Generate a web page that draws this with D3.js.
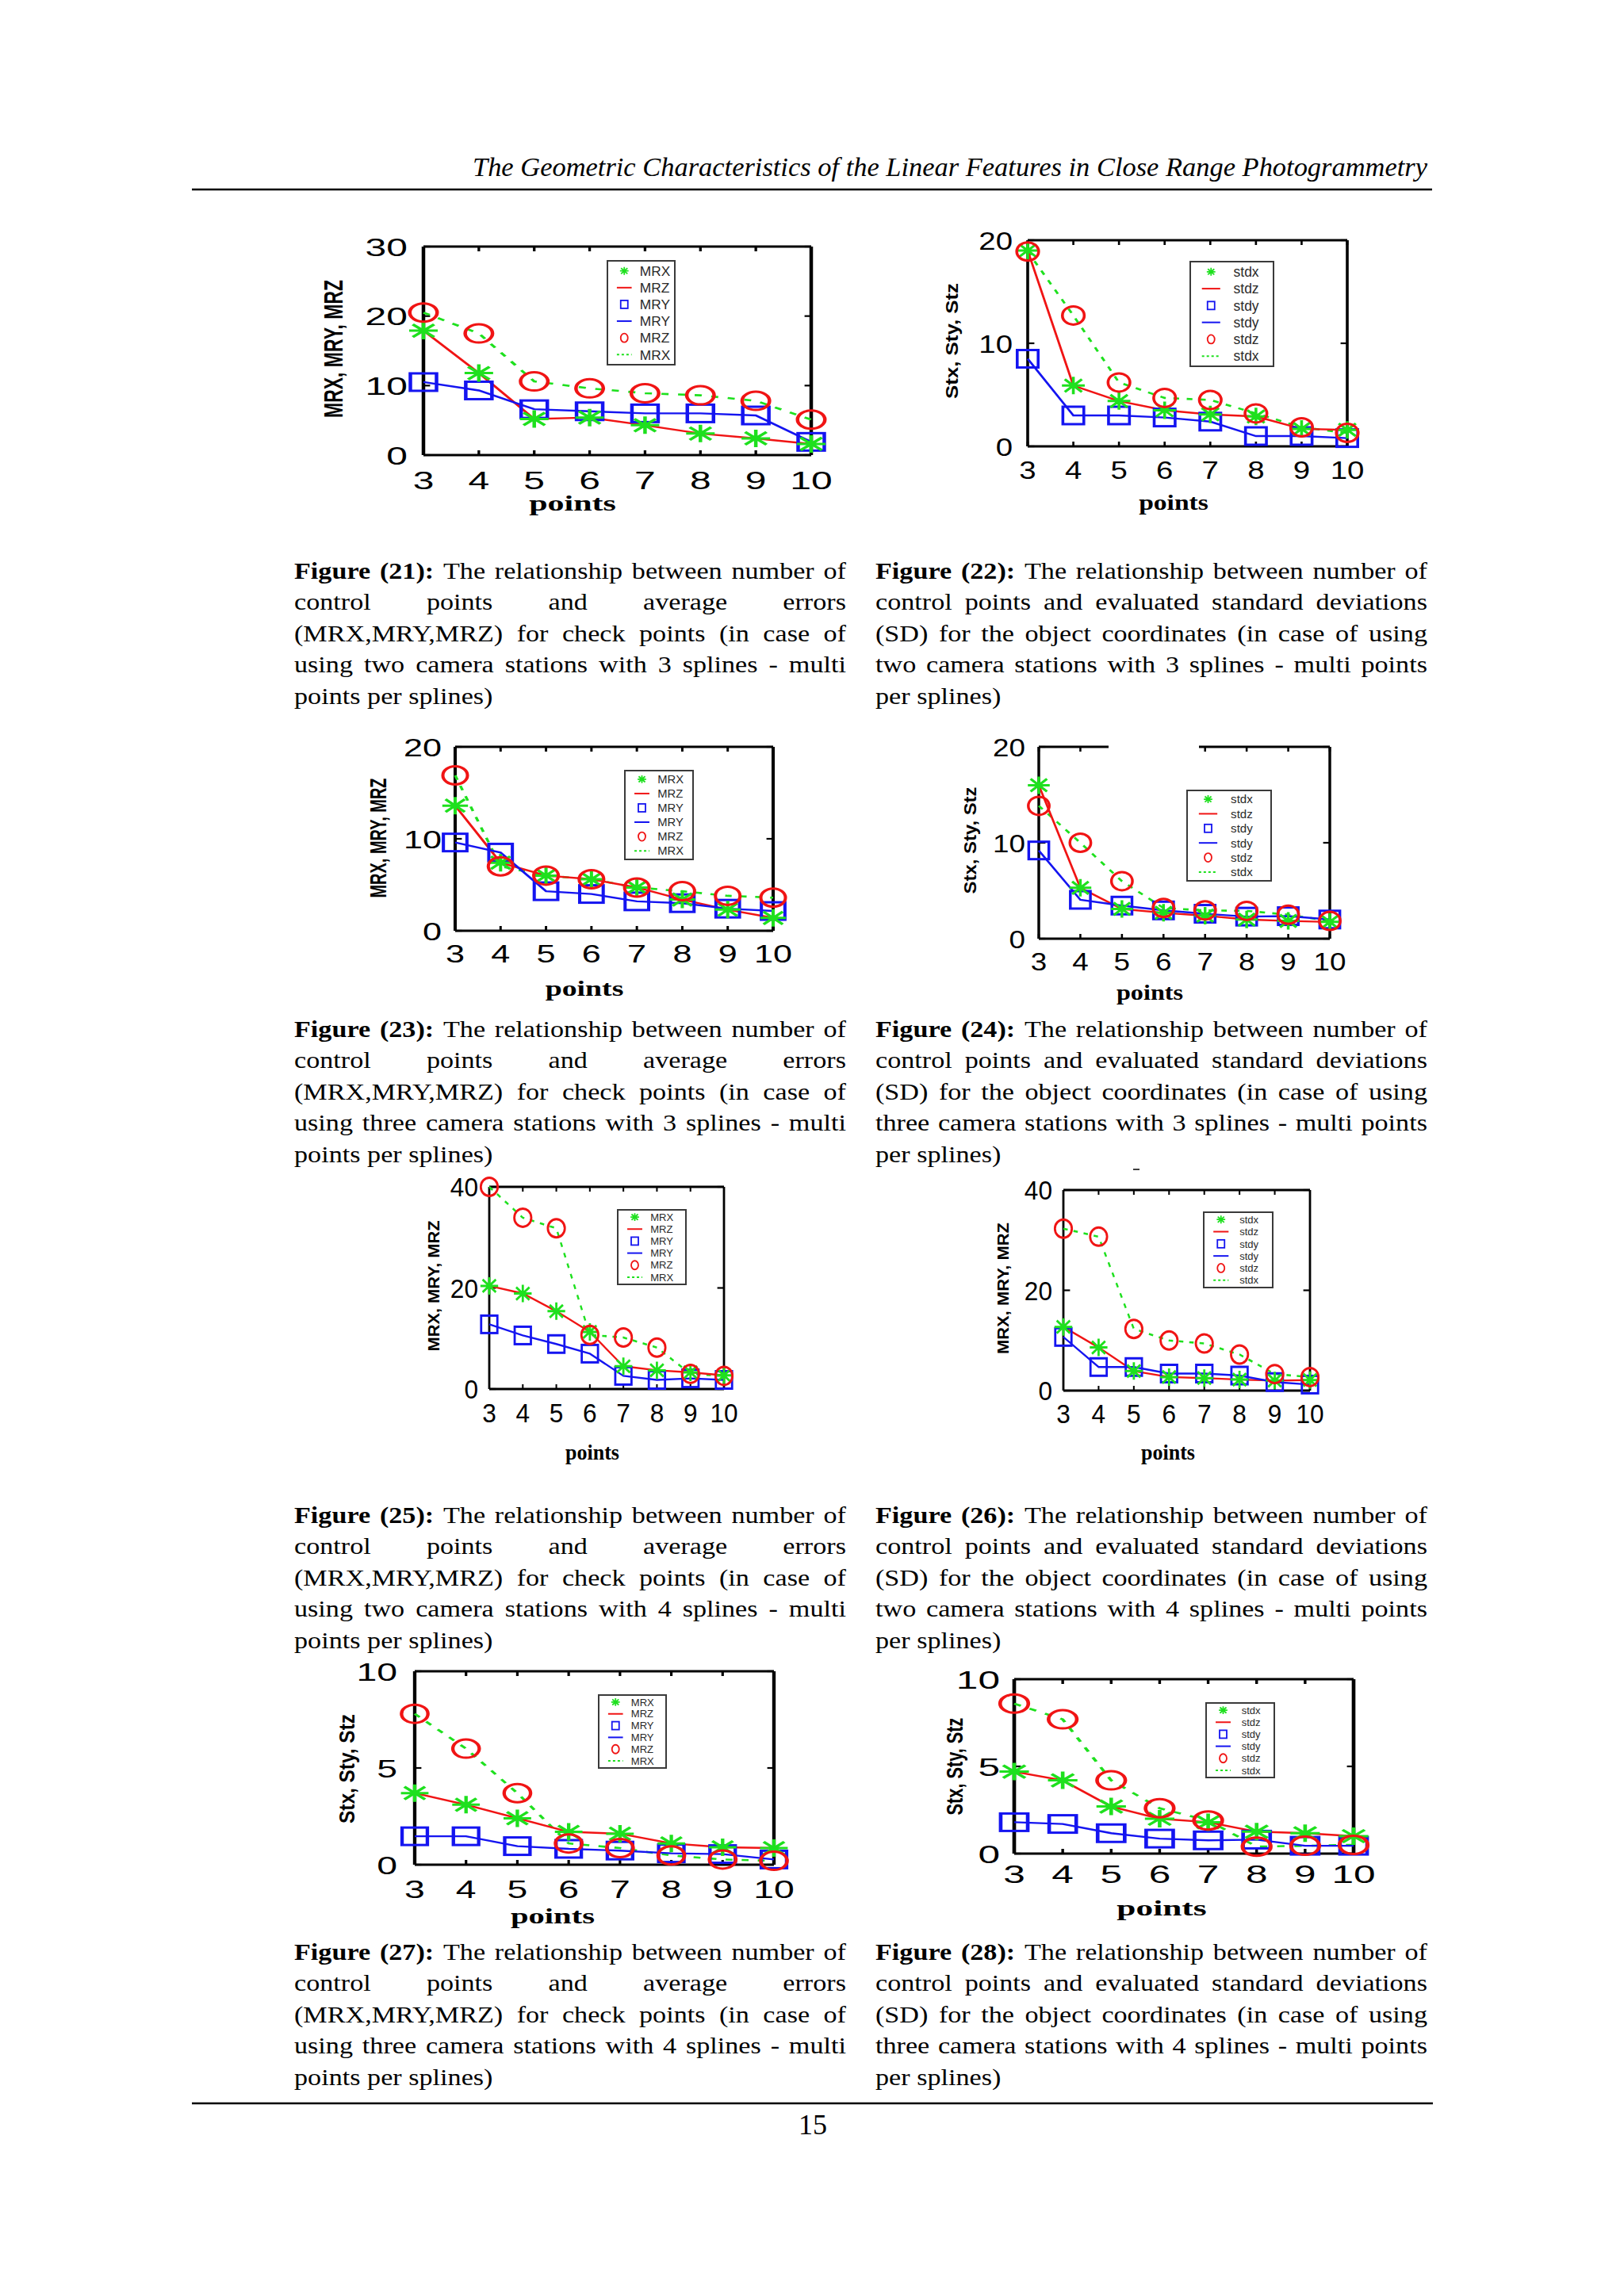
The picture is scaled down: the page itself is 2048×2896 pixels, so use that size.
<!DOCTYPE html>
<html>
<head>
<meta charset="utf-8">
<script src="https://cdn.jsdelivr.net/npm/d3@7"></script>
<style>
  body { margin: 0; background: #fff; }
  svg { display: block; }
</style>
</head>
<body>
<script>
// Page of eight small MATLAB-style plots (figures 21-28) with captions

const xPoints = [3, 4, 5, 6, 7, 8, 9, 10];

// each figure: green stars joined by red line, blue squares joined by blue line,
// red circles joined by green dotted line
const fig21Star   = [17.9, 11.8, 5.2, 5.4, 4.3, 3.1, 2.4, 1.6];
const fig21Square = [10.5, 9.3, 6.6, 6.3, 6.0, 6.0, 5.7, 1.9];
const fig21Circle = [20.5, 17.5, 10.6, 9.6, 8.9, 8.6, 7.8, 5.1];

const fig22Star   = [19.0, 5.9, 4.4, 3.5, 3.1, 2.9, 1.7, 1.6];
const fig22Square = [8.5, 3.0, 3.0, 2.8, 2.4, 1.0, 1.0, 0.8];
const fig22Circle = [18.9, 12.7, 6.2, 4.7, 4.5, 3.2, 1.85, 1.3];

const fig23Star   = [13.6, 7.4, 6.0, 5.6, 4.7, 3.4, 2.3, 1.4];
const fig23Square = [9.6, 8.5, 4.3, 4.0, 3.2, 3.0, 2.4, 2.15];
const fig23Circle = [16.9, 7.0, 6.0, 5.6, 4.7, 4.3, 3.8, 3.6];

const fig24Star   = [16.0, 5.3, 3.1, 2.7, 2.4, 2.0, 1.85, 1.75];
const fig24Square = [9.2, 4.05, 3.45, 2.95, 2.6, 2.3, 2.35, 2.0];
const fig24Circle = [13.85, 10.0, 6.0, 3.2, 2.95, 2.9, 2.5, 1.85];

const fig25Star   = [20.4, 18.9, 15.4, 11.3, 4.5, 3.7, 3.3, 2.7];
const fig25Square = [12.8, 10.6, 8.9, 7.0, 2.6, 1.8, 2.1, 1.8];
const fig25Circle = [40.0, 33.9, 31.8, 10.7, 10.2, 8.2, 3.0, 2.6];

const fig26Star   = [12.7, 8.6, 3.9, 2.7, 2.5, 2.2, 2.0, 2.1];
const fig26Square = [10.7, 4.7, 4.7, 3.4, 3.4, 3.0, 1.7, 1.2];
const fig26Circle = [32.3, 30.7, 12.3, 10.0, 9.4, 7.2, 3.3, 2.7];

const fig27Star   = [3.7, 3.1, 2.4, 1.7, 1.6, 1.1, 0.9, 0.86];
const fig27Square = [1.47, 1.47, 0.96, 0.82, 0.73, 0.59, 0.55, 0.27];
const fig27Circle = [7.8, 6.0, 3.7, 1.1, 0.86, 0.48, 0.27, 0.2];

const fig28Star   = [4.7, 4.2, 2.7, 2.0, 1.8, 1.26, 1.17, 1.0];
const fig28Square = [1.8, 1.7, 1.17, 0.86, 0.76, 0.8, 0.45, 0.45];
const fig28Circle = [8.6, 7.7, 4.2, 2.6, 1.9, 0.4, 0.45, 0.5];

const yTicks30 = [0, 10, 20, 30];
const yTicks20 = [0, 10, 20];
const yTicks40 = [0, 20, 40];
const yTicks10 = [0, 5, 10];

const mrLegend = ["MRX", "MRZ", "MRY", "MRY", "MRZ", "MRX"];
const sdLegend = ["stdx", "stdz", "stdy", "stdy", "stdz", "stdx"];

const headerText = "The Geometric Characteristics of the Linear Features in Close Range Photogrammetry";
const pageNumber = "15";

const cap21 = ["Figure (21): The relationship between number of",
  "control points and average errors",
  "(MRX,MRY,MRZ) for check points (in case of",
  "using two camera stations with 3 splines - multi",
  "points per splines)"];
const cap22 = ["Figure (22): The relationship between number of",
  "control points and evaluated standard deviations",
  "(SD) for the object coordinates (in case of using",
  "two camera stations with 3 splines - multi points",
  "per splines)"];
const cap23 = ["Figure (23): The relationship between number of",
  "control points and average errors",
  "(MRX,MRY,MRZ) for check points (in case of",
  "using three camera stations with 3 splines - multi",
  "points per splines)"];
const cap24 = ["Figure (24): The relationship between number of",
  "control points and evaluated standard deviations",
  "(SD) for the object coordinates (in case of using",
  "three camera stations with 3 splines - multi points",
  "per splines)"];
const cap25 = ["Figure (25): The relationship between number of",
  "control points and average errors",
  "(MRX,MRY,MRZ) for check points (in case of",
  "using two camera stations with 4 splines - multi",
  "points per splines)"];
const cap26 = ["Figure (26): The relationship between number of",
  "control points and evaluated standard deviations",
  "(SD) for the object coordinates (in case of using",
  "two camera stations with 4 splines - multi points",
  "per splines)"];
const cap27 = ["Figure (27): The relationship between number of",
  "control points and average errors",
  "(MRX,MRY,MRZ) for check points (in case of",
  "using three camera stations with 4 splines - multi",
  "points per splines)"];
const cap28 = ["Figure (28): The relationship between number of",
  "control points and evaluated standard deviations",
  "(SD) for the object coordinates (in case of using",
  "three camera stations with 4 splines - multi points",
  "per splines)"];

// ---------------------------------------------------------------
const GREEN = "#1ee01e", RED = "#f01414", BLUE = "#1414f0";
const SANS = "'Liberation Sans', Arial, sans-serif";
const SERIF = "'Liberation Serif', 'Times New Roman', serif";

const svg = d3.select("body").append("svg")
  .attr("width", 2048).attr("height", 2896)
  .attr("viewBox", [0, 0, 2048, 2896]);

svg.append("rect").attr("width", 2048).attr("height", 2896).attr("fill", "#fff");

// header + rules
svg.append("text")
  .attr("x", 596).attr("y", 222)
  .attr("font-family", SERIF).attr("font-style", "italic").attr("font-size", 34)
  .attr("textLength", 1204).attr("lengthAdjust", "spacingAndGlyphs")
  .text(headerText);
svg.append("line").attr("x1", 242).attr("x2", 1806).attr("y1", 239).attr("y2", 239)
  .attr("stroke", "#000").attr("stroke-width", 2.5);
svg.append("line").attr("x1", 242).attr("x2", 1807).attr("y1", 2653).attr("y2", 2653)
  .attr("stroke", "#000").attr("stroke-width", 2.5);
svg.append("text")
  .attr("x", 1025).attr("y", 2692).attr("text-anchor", "middle")
  .attr("font-family", SERIF).attr("font-size", 36)
  .text(pageNumber);

const starPath = "M-12,0H12M0,-11V11M-9,-8L9,8M-9,8L9,-8";

function drawChart(cfg, star, square, circle, legendLabels) {
  const sx = cfg.sx;
  const innerW = (cfg.right - cfg.left) / sx;
  const loc = px => (px - cfg.left) / sx;   // page x -> local x

  const g = svg.append("g").attr("transform", `translate(${cfg.left},0) scale(${sx},1)`);
  const x = d3.scaleLinear().domain([3, 10]).range([0, innerW]);
  const y = d3.scaleLinear().domain([0, cfg.yMax]).range([cfg.bottom, cfg.top]);

  // frame
  const frame = g.append("g").attr("stroke", "#000").attr("stroke-width", 3).attr("fill", "none");
  frame.append("line").attr("x1", 0).attr("x2", 0).attr("y1", cfg.top).attr("y2", cfg.bottom);
  frame.append("line").attr("x1", innerW).attr("x2", innerW).attr("y1", cfg.top).attr("y2", cfg.bottom);
  frame.append("line").attr("x1", 0).attr("x2", innerW).attr("y1", cfg.bottom).attr("y2", cfg.bottom);
  if (cfg.topGap) {
    frame.append("line").attr("x1", 0).attr("x2", loc(cfg.topGap[0])).attr("y1", cfg.top).attr("y2", cfg.top);
    frame.append("line").attr("x1", loc(cfg.topGap[1])).attr("x2", innerW).attr("y1", cfg.top).attr("y2", cfg.top);
  } else {
    frame.append("line").attr("x1", 0).attr("x2", innerW).attr("y1", cfg.top).attr("y2", cfg.top);
  }

  // ticks
  const tk = g.append("g").attr("stroke", "#000").attr("stroke-width", 2.2);
  xPoints.forEach(v => {
    tk.append("line").attr("x1", x(v)).attr("x2", x(v)).attr("y1", cfg.bottom).attr("y2", cfg.bottom - 6);
    const inGap = cfg.topGap && x(v) > loc(cfg.topGap[0]) && x(v) < loc(cfg.topGap[1]);
    if (!inGap) tk.append("line").attr("x1", x(v)).attr("x2", x(v)).attr("y1", cfg.top).attr("y2", cfg.top + 6);
  });
  cfg.yTicks.forEach(v => {
    tk.append("line").attr("x1", 0).attr("x2", 7 / sx * 1.2).attr("y1", y(v)).attr("y2", y(v));
    tk.append("line").attr("x1", innerW).attr("x2", innerW - 7 / sx * 1.2).attr("y1", y(v)).attr("y2", y(v));
  });

  // tick labels
  const tfs = cfg.tickFont || 32;
  g.append("g").selectAll("text").data(xPoints).join("text")
    .attr("x", d => x(d)).attr("y", cfg.xTickY + tfs * 0.36)
    .attr("text-anchor", "middle")
    .attr("font-family", SANS).attr("font-size", tfs)
    .text(d => d);
  g.append("g").selectAll("text").data(cfg.yTicks).join("text")
    .attr("x", loc(cfg.yTickRight)).attr("y", d => y(d) + tfs * 0.36)
    .attr("text-anchor", "end")
    .attr("font-family", SANS).attr("font-size", tfs)
    .text(d => d);

  // axis labels
  g.append("text")
    .attr("x", loc(cfg.pointsX)).attr("y", cfg.pointsY + 6)
    .attr("text-anchor", "middle")
    .attr("font-family", SERIF).attr("font-weight", "bold").attr("font-size", 28)
    .text("points");
  g.append("text")
    .attr("transform", `translate(${loc(cfg.yLabX)},${cfg.yLabY}) rotate(-90)`)
    .attr("text-anchor", "middle").attr("dy", "0.35em")
    .attr("font-family", SANS).attr("font-weight", "bold")
    .attr("font-size", cfg.yLabel.startsWith("MR") ? 22 : 19)
    .attr("textLength", cfg.yLabLen).attr("lengthAdjust", "spacingAndGlyphs")
    .text(cfg.yLabel);

  const line = vals => d3.line().x((d, i) => x(xPoints[i])).y(d => y(d))(vals);

  // series lines
  g.append("path").attr("d", line(circle)).attr("fill", "none")
    .attr("stroke", GREEN).attr("stroke-width", 2.6).attr("stroke-dasharray", "6,8");
  g.append("path").attr("d", line(star)).attr("fill", "none")
    .attr("stroke", RED).attr("stroke-width", 2.4);
  g.append("path").attr("d", line(square)).attr("fill", "none")
    .attr("stroke", BLUE).attr("stroke-width", 2.4);

  // markers
  g.append("g").selectAll("rect").data(square).join("rect")
    .attr("x", (d, i) => x(xPoints[i]) - 11).attr("y", d => y(d) - 11)
    .attr("width", 22).attr("height", 22)
    .attr("fill", "none").attr("stroke", BLUE).attr("stroke-width", 3);
  g.append("g").selectAll("path").data(star).join("path")
    .attr("transform", (d, i) => `translate(${x(xPoints[i])},${y(d)})`)
    .attr("d", starPath).attr("fill", "none")
    .attr("stroke", GREEN).attr("stroke-width", 3);
  g.append("g").selectAll("circle").data(circle).join("circle")
    .attr("cx", (d, i) => x(xPoints[i])).attr("cy", d => y(d))
    .attr("r", 11.5)
    .attr("fill", "none").attr("stroke", RED).attr("stroke-width", 3);

  // legend (page coordinates)
  const L = cfg.legend;
  const lg = svg.append("g");
  lg.append("rect").attr("x", L.x).attr("y", L.y).attr("width", L.w).attr("height", L.h)
    .attr("fill", "#fff").attr("stroke", "#3a3a3a").attr("stroke-width", 2);
  const first = L.h * 0.097;
  const step = (L.h - 2 * first) / 5;
  const mx = L.x + L.w * 0.25;
  const tx = L.x + L.w * (legendLabels[0] === "MRX" ? 0.48 : 0.52);
  const segHalf = L.w * 0.11;
  const fs = Math.max(13, step * 0.82);
  legendLabels.forEach((lab, i) => {
    const ry = L.y + first + i * step;
    if (i === 0) {
      lg.append("path").attr("transform", `translate(${mx},${ry}) scale(0.45)`)
        .attr("d", starPath).attr("fill", "none").attr("stroke", GREEN).attr("stroke-width", 4);
    } else if (i === 1) {
      lg.append("line").attr("x1", mx - segHalf).attr("x2", mx + segHalf).attr("y1", ry).attr("y2", ry)
        .attr("stroke", RED).attr("stroke-width", 2);
    } else if (i === 2) {
      lg.append("rect").attr("x", mx - 4.5).attr("y", ry - 5).attr("width", 9).attr("height", 10)
        .attr("fill", "none").attr("stroke", BLUE).attr("stroke-width", 1.8);
    } else if (i === 3) {
      lg.append("line").attr("x1", mx - segHalf).attr("x2", mx + segHalf).attr("y1", ry).attr("y2", ry)
        .attr("stroke", BLUE).attr("stroke-width", 2);
    } else if (i === 4) {
      lg.append("ellipse").attr("cx", mx).attr("cy", ry).attr("rx", 4.5).attr("ry", 5.5)
        .attr("fill", "none").attr("stroke", RED).attr("stroke-width", 1.8);
    } else {
      lg.append("line").attr("x1", mx - segHalf).attr("x2", mx + segHalf).attr("y1", ry).attr("y2", ry)
        .attr("stroke", GREEN).attr("stroke-width", 2).attr("stroke-dasharray", "3,3");
    }
    lg.append("text").attr("x", tx).attr("y", ry + fs * 0.36)
      .attr("font-family", SANS).attr("font-size", fs).attr("fill", "#2a2a2a")
      .text(lab);
  });
}

// chart layouts (page pixels)
drawChart({ left: 534, right: 1023, top: 311, bottom: 574, sx: 1.5, yMax: 30, yTicks: yTicks30,
  yTickRight: 514, xTickY: 605, pointsX: 722, pointsY: 638,
  yLabel: "MRX, MRY, MRZ", yLabX: 420, yLabY: 440, yLabLen: 174,
  legend: { x: 766, y: 329, w: 85, h: 131 } }, fig21Star, fig21Square, fig21Circle, mrLegend);

drawChart({ left: 1296, right: 1699, top: 303, bottom: 563, sx: 1.2, yMax: 20, yTicks: yTicks20,
  yTickRight: 1277, xTickY: 592, pointsX: 1480, pointsY: 637,
  yLabel: "Stx, Sty, Stz", yLabX: 1200, yLabY: 430, yLabLen: 146,
  legend: { x: 1501, y: 330, w: 105, h: 132 } }, fig22Star, fig22Square, fig22Circle, sdLegend);

drawChart({ left: 574, right: 975, top: 942, bottom: 1174, sx: 1.35, yMax: 20, yTicks: yTicks20,
  yTickRight: 557, xTickY: 1202, pointsX: 737, pointsY: 1250,
  yLabel: "MRX, MRY, MRZ", yLabX: 477, yLabY: 1057, yLabLen: 151,
  legend: { x: 788, y: 972, w: 86, h: 112 } }, fig23Star, fig23Square, fig23Circle, mrLegend);

drawChart({ left: 1310, right: 1677, top: 942, bottom: 1184, sx: 1.15, yMax: 20, yTicks: yTicks20,
  yTickRight: 1293, xTickY: 1212, pointsX: 1450, pointsY: 1255, topGap: [1398, 1512],
  yLabel: "Stx, Sty, Stz", yLabX: 1223, yLabY: 1060, yLabLen: 135,
  legend: { x: 1497, y: 997, w: 106, h: 114 } }, fig24Star, fig24Square, fig24Circle, sdLegend);

drawChart({ left: 617, right: 913, top: 1497, bottom: 1752, sx: 0.93, yMax: 40, yTicks: yTicks40,
  yTickRight: 603, xTickY: 1782, pointsX: 747, pointsY: 1835, tickFont: 34,
  yLabel: "MRX, MRY, MRZ", yLabX: 547, yLabY: 1622, yLabLen: 165,
  legend: { x: 779, y: 1526, w: 86, h: 94 } }, fig25Star, fig25Square, fig25Circle, mrLegend);

drawChart({ left: 1341, right: 1652, top: 1501, bottom: 1754, sx: 0.93, yMax: 40, yTicks: yTicks40,
  yTickRight: 1327, xTickY: 1783, pointsX: 1473, pointsY: 1835, tickFont: 34,
  yLabel: "MRX, MRY, MRZ", yLabX: 1265, yLabY: 1625, yLabLen: 166,
  legend: { x: 1518, y: 1529, w: 87, h: 95 } }, fig26Star, fig26Square, fig26Circle, sdLegend);

drawChart({ left: 523, right: 976, top: 2108, bottom: 2352, sx: 1.45, yMax: 10, yTicks: yTicks10,
  yTickRight: 501, xTickY: 2382, pointsX: 697, pointsY: 2420,
  yLabel: "Stx, Sty, Stz", yLabX: 437, yLabY: 2231, yLabLen: 138,
  legend: { x: 755, y: 2138, w: 85, h: 92 } }, fig27Star, fig27Square, fig27Circle, mrLegend);

drawChart({ left: 1279, right: 1707, top: 2118, bottom: 2338, sx: 1.55, yMax: 10, yTicks: yTicks10,
  yTickRight: 1261, xTickY: 2363, pointsX: 1465, pointsY: 2410,
  yLabel: "Stx, Sty, Stz", yLabX: 1204, yLabY: 2228, yLabLen: 123,
  legend: { x: 1521, y: 2148, w: 86, h: 94 } }, fig28Star, fig28Square, fig28Circle, sdLegend);

// stray mark above fig 26
svg.append("line").attr("x1", 1429).attr("x2", 1437).attr("y1", 1475).attr("y2", 1475)
  .attr("stroke", "#000").attr("stroke-width", 1.5);

// ---------------- captions (justified) ----------------
const capFont = 30.5, capSx = 1.12, capLead = 39.5, colW = 696;

const measurer = svg.append("text").attr("font-family", SERIF).attr("font-size", capFont)
  .attr("visibility", "hidden");
function measure(word, bold) {
  measurer.attr("font-weight", bold ? "bold" : "normal").text(word);
  return measurer.node().getComputedTextLength();
}

function drawCaption(lines, x0, y0) {
  const g = svg.append("g").attr("transform", `translate(${x0},0) scale(${capSx},1)`);
  const W = colW / capSx;
  lines.forEach((ln, li) => {
    const words = ln.split(" ").filter(w => w.length);
    const bolds = words.map((w, i) => li === 0 && i < 2);
    const widths = words.map((w, i) => measure(w, bolds[i]));
    const last = li === lines.length - 1;
    const gap = last ? capFont * 0.25 : (W - d3.sum(widths)) / (words.length - 1);
    let cx = 0;
    words.forEach((w, i) => {
      g.append("text").attr("x", cx).attr("y", y0 + li * capLead)
        .attr("font-family", SERIF).attr("font-size", capFont)
        .attr("font-weight", bolds[i] ? "bold" : "normal")
        .text(w);
      cx += widths[i] + gap;
    });
  });
}

drawCaption(cap21, 371, 730);
drawCaption(cap22, 1104, 730);
drawCaption(cap23, 371, 1308);
drawCaption(cap24, 1104, 1308);
drawCaption(cap25, 371, 1921);
drawCaption(cap26, 1104, 1921);
drawCaption(cap27, 371, 2472);
drawCaption(cap28, 1104, 2472);
measurer.remove();
</script>
</body>
</html>
